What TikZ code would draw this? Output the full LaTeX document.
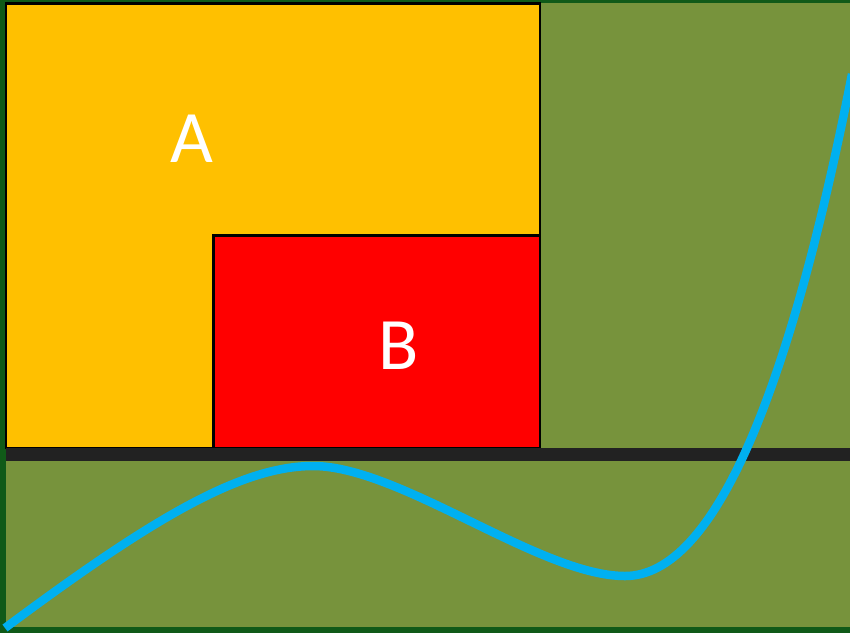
\documentclass[tikz,border=0pt]{standalone}
\usepackage{fontspec}
\setmainfont{Carlito}
\usepackage{tikz}
\usetikzlibrary{positioning}

\definecolor{verdeOscuro}{RGB}{16,90,24}
\definecolor{verdeFondo}{RGB}{119,147,60}
\definecolor{amarillo}{RGB}{255,192,0}
\definecolor{barra}{RGB}{34,34,34}
\definecolor{azul}{RGB}{0,176,240}

\tikzset{
  caja/.style={draw=black, line width=2.2pt},
  letra/.style={text=white, font=\fontsize{74}{80}\selectfont, inner sep=0pt}
}

\begin{document}
\begin{tikzpicture}[x=1pt, y=-1pt]
                                \useasboundingbox (0,0) rectangle (850,633);
                                % fondo
                                \fill [verdeOscuro] (0,0) rectangle (850,633);
                                \fill [verdeFondo] (5.5,2.5) rectangle (850,627);

                                % rectangulos
                                \filldraw [caja, fill=amarillo] (6,3.5) rectangle (540,448);
                                \filldraw [caja, fill=red] (213.5,235.5) rectangle (540,448);
                                \fill [barra] (6,448) rectangle (850,461);

                                % etiquetas
                                \node [letra] (labelA) at (192,139) {A};
                                \node [letra] (labelB) at (399,346) {B};

                                % curva
                                \draw [azul, line width=8.5pt]
                                (5,628) .. controls (150,520) and (240,466) .. (313,466)
                                        .. controls (400,466) and (540,576) .. (625,576)
                                        .. controls (715,576) and (790,390) .. (852,74);
                            \end{tikzpicture}
\end{document}
